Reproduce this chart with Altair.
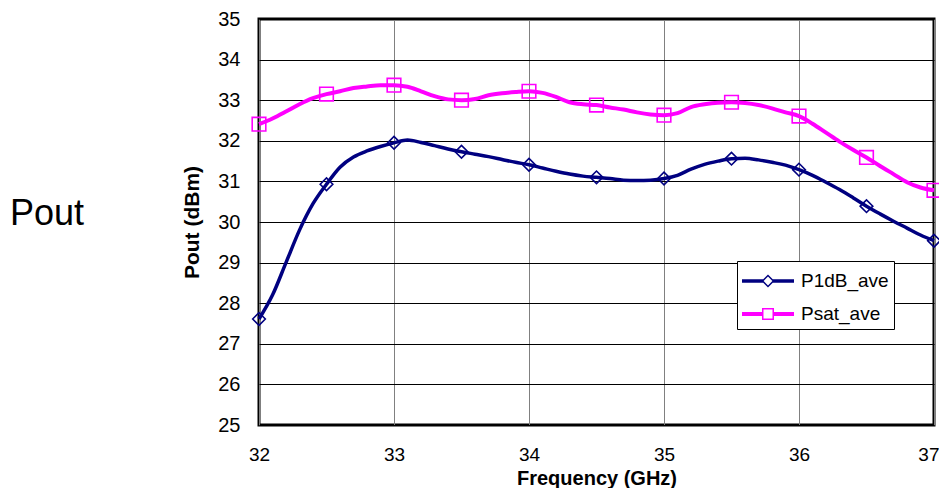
import altair as alt
import pandas as pd

# ---------------- data ----------------
freq_fine = [32.0, 32.1, 32.2, 32.3, 32.4, 32.5, 32.6, 32.7, 32.8, 32.9,
             33.0, 33.1, 33.2, 33.3, 33.4, 33.5, 33.6, 33.7, 33.8, 33.9,
             34.0, 34.1, 34.2, 34.3, 34.4, 34.5, 34.6, 34.7, 34.8, 34.9,
             35.0, 35.1, 35.2, 35.3, 35.4, 35.5, 35.6, 35.7, 35.8, 35.9,
             36.0, 36.1, 36.2, 36.3, 36.4, 36.5, 36.6, 36.7, 36.8, 36.9,
             37.0]
p1db_fine = [27.61, 28.20, 29.00, 29.80, 30.45, 30.93, 31.35, 31.60, 31.75, 31.86,
             31.95, 32.02, 31.96, 31.88, 31.80, 31.73, 31.67, 31.61, 31.54, 31.47,
             31.41, 31.33, 31.25, 31.18, 31.13, 31.10, 31.07, 31.03, 31.02, 31.03,
             31.07, 31.15, 31.30, 31.42, 31.50, 31.56, 31.57, 31.53, 31.47, 31.40,
             31.29, 31.15, 30.98, 30.80, 30.60, 30.39, 30.20, 30.02, 29.85, 29.68,
             29.54]
psat_fine = [32.41, 32.55, 32.72, 32.90, 33.05, 33.15, 33.22, 33.30, 33.34, 33.37,
             33.37, 33.33, 33.22, 33.10, 33.02, 33.00, 33.03, 33.12, 33.17, 33.20,
             33.22, 33.18, 33.08, 32.95, 32.90, 32.88, 32.82, 32.77, 32.70, 32.65,
             32.63, 32.68, 32.83, 32.90, 32.94, 32.95, 32.93, 32.88, 32.80, 32.70,
             32.61, 32.42, 32.20, 31.98, 31.78, 31.59, 31.38, 31.18, 30.98, 30.85,
             30.78]

freq_marker = [32.0, 32.5, 33.0, 33.5, 34.0, 34.5, 35.0, 35.5, 36.0, 36.5, 37.0]
p1db_marker = [27.61, 30.93, 31.95, 31.73, 31.41, 31.10, 31.07, 31.56, 31.29, 30.39, 29.54]
psat_marker = [32.41, 33.15, 33.37, 33.00, 33.22, 32.88, 32.63, 32.95, 32.61, 31.59, 30.78]

series_names = ["P1dB_ave", "Psat_ave"]
series_colors = ["#000080", "#FF00FF"]
x_ticks = [32, 33, 34, 35, 36, 37]
y_ticks = [25, 26, 27, 28, 29, 30, 31, 32, 33, 34, 35]

FONT = "Liberation Sans"

# ---------------- tables ----------------
df_p1_line = pd.DataFrame({"f": freq_fine, "v": p1db_fine})
df_ps_line = pd.DataFrame({"f": freq_fine, "v": psat_fine})
df_p1_pts = pd.DataFrame({"f": freq_marker, "v": p1db_marker})
df_ps_pts = pd.DataFrame({"f": freq_marker, "v": psat_marker})
df_legend = pd.DataFrame({
    "f": freq_marker + freq_marker,
    "v": p1db_marker + psat_marker,
    "series": [series_names[0]] * len(freq_marker) + [series_names[1]] * len(freq_marker),
})

# ---------------- legend symbol paths (line + hollow marker) ----------------
k = 15.0          # px per unit (symbolSize 900)
c = -1 + 26 / k   # marker centre
end = -1 + 52 / k


def f(v):
    return f"{v:.3f}"


h1 = 1.75 / k
diamond_path = (
    f"M-1,{f(-h1)} H{f(c - 0.30)} V{f(h1)} H-1 Z "
    f"M{f(c + 0.30)},{f(-h1)} H{f(end)} V{f(h1)} H{f(c + 0.30)} Z "
    f"M{f(c - 0.433)},0 L{f(c)},-0.433 L{f(c + 0.433)},0 L{f(c)},0.433 Z "
    f"M{f(c - 0.293)},0 L{f(c)},0.293 L{f(c + 0.293)},0 L{f(c)},-0.293 Z"
)
h2 = 2.0 / k
square_path = (
    f"M-1,{f(-h2)} H{f(c - 0.35)} V{f(h2)} H-1 Z "
    f"M{f(c + 0.35)},{f(-h2)} H{f(end)} V{f(h2)} H{f(c + 0.35)} Z "
    f"M{f(c - 0.4)},-0.4 H{f(c + 0.4)} V0.4 H{f(c - 0.4)} Z "
    f"M{f(c - 0.3)},-0.3 V0.3 H{f(c + 0.3)} V-0.3 H{f(c - 0.3)} Z"
)

# ---------------- layout ----------------
PAD_TOP = 11
PLOT_TOP = 8 + PAD_TOP
PLOT_LEFT = 259
PLOT_BOTTOM = 425
PLOT_H = PLOT_BOTTOM - PLOT_TOP

# ---------------- encodings ----------------
x_enc = alt.X("f:Q", scale=alt.Scale(domain=[32, 37], nice=False),
              axis=alt.Axis(values=x_ticks, format="d", title="Frequency (GHz)",
                            grid=True, gridColor="#808080", gridWidth=1,
                            labelPadding=20, labelFlush=False, labelFontSize=19,
                            labelAlign={"condition": {"test": "datum.value == 37", "value": "right"},
                                        "value": "center"},
                            labelOffset={"condition": {"test": "datum.value == 37", "value": 5},
                                         "value": 0},
                            titleFontSize=20, titleBaseline="alphabetic", titleY=59))
y_enc = alt.Y("v:Q", scale=alt.Scale(domain=[25, 35], nice=False),
              axis=alt.Axis(values=y_ticks, format="d", title="Pout (dBm)",
                            grid=True, gridColor="#000000", gridWidth=1,
                            labelPadding=19, labelFlush=False, titlePadding=15))

line_p1 = alt.Chart(df_p1_line).mark_line(color=series_colors[0], strokeWidth=3.5,
                                          interpolate="monotone").encode(x=x_enc, y=y_enc)
line_ps = alt.Chart(df_ps_line).mark_line(color=series_colors[1], strokeWidth=4,
                                          interpolate="monotone").encode(x=x_enc, y=y_enc)
pts_p1 = alt.Chart(df_p1_pts).mark_point(shape="diamond", size=160, filled=False,
                                         color=series_colors[0], strokeWidth=1.6,
                                         opacity=1).encode(x=x_enc, y=y_enc)
pts_ps = alt.Chart(df_ps_pts).mark_point(shape="square", size=185, filled=False,
                                         color=series_colors[1], strokeWidth=1.6,
                                         opacity=1).encode(x=x_enc, y=y_enc)

legend_props = dict(title=None, orient="none", legendX=737 - PLOT_LEFT, legendY=261 - PLOT_TOP,
                    padding=5, strokeColor="black", fillColor="white",
                    cornerRadius=0, symbolSize=900, symbolStrokeWidth=0,
                    symbolOpacity=1, labelOffset=29, rowPadding=8,
                    labelFont=FONT, labelFontSize=19, labelColor="black")

legend_layer = alt.Chart(df_legend).mark_point(filled=True, opacity=0).encode(
    x=x_enc, y=y_enc,
    color=alt.Color("series:N",
                    scale=alt.Scale(domain=series_names, range=series_colors),
                    legend=alt.Legend(**legend_props)),
    shape=alt.Shape("series:N",
                    scale=alt.Scale(domain=series_names, range=[diamond_path, square_path]),
                    legend=alt.Legend(**legend_props)),
)

side_label = alt.Chart(pd.DataFrame({"t": ["Pout"]})).mark_text(
    font=FONT, fontSize=36, color="black", align="center", baseline="alphabetic"
).encode(text="t:N", x=alt.value(47 - PLOT_LEFT), y=alt.value(225 - PLOT_TOP))

chart = alt.layer(line_p1, line_ps, pts_p1, pts_ps, legend_layer, side_label).properties(
    width=675, height=PLOT_H,
    autosize=alt.AutoSizeParams(type="none"),
    padding={"left": PLOT_LEFT - 8, "top": PAD_TOP, "right": 5,
             "bottom": 480 - PAD_TOP - PLOT_H},
    background="white",
).configure_view(
    stroke="black", strokeWidth=3
).configure_axis(
    labelFont=FONT, labelFontSize=20, labelColor="black",
    titleFont=FONT, titleFontSize=21, titleFontWeight="bold", titleColor="black",
    ticks=False, domain=False,
)

chart.save("out.html", embed_options={"renderer": "svg", "actions": False})
